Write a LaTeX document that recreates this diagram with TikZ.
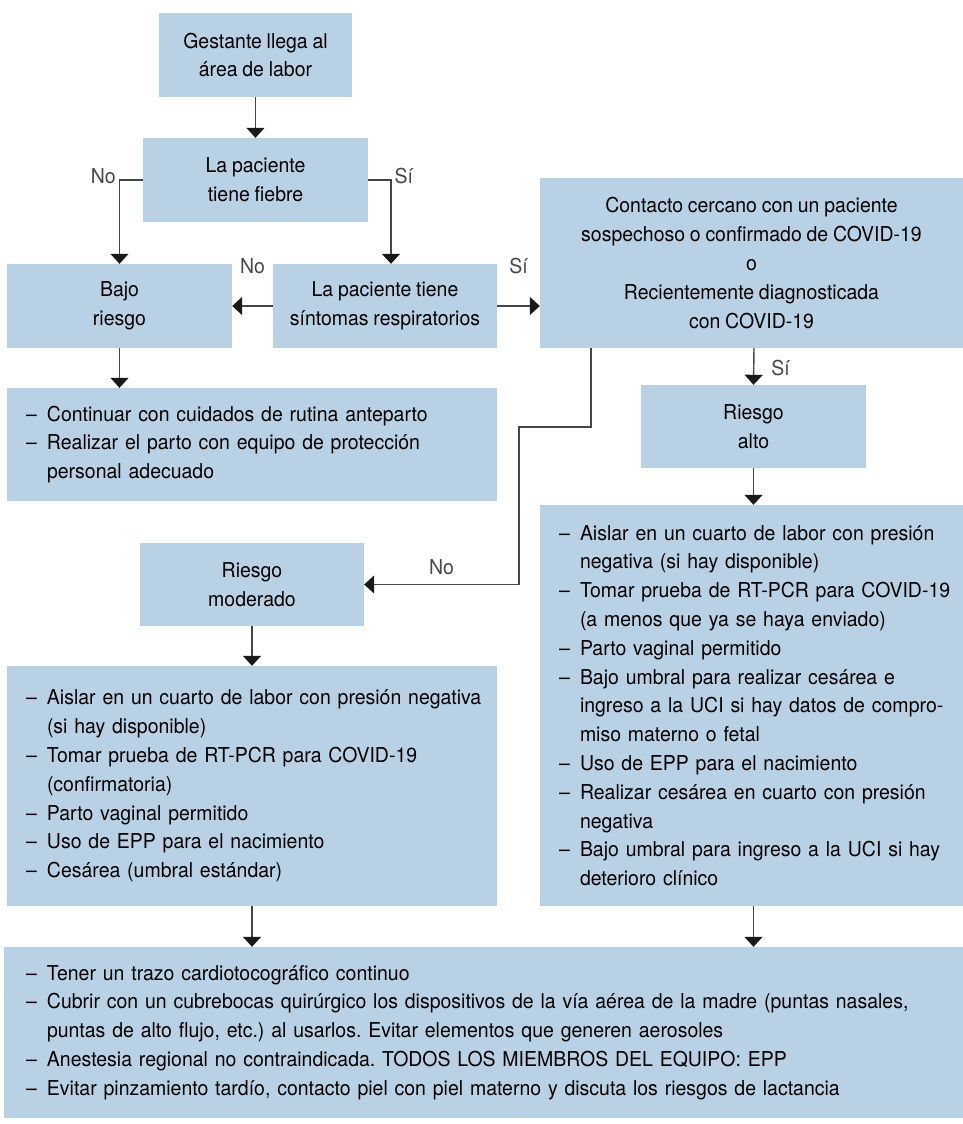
\documentclass[tikz,border=0pt]{standalone}
\usepackage{fontspec}
\setmainfont{TeX Gyre Heros}[FakeStretch=0.95,WordSpace=0.88]
\usetikzlibrary{arrows.meta}
\frenchspacing
\definecolor{cajaazul}{RGB}{185,209,228}
\definecolor{flecha}{RGB}{70,70,70}
\newcommand\guion[1]{\mbox{\makebox[21pt][l]{–}#1}}
\newcommand\sangria[1]{\mbox{\hspace*{21pt}#1}}
\tikzset{
  caja/.style={fill=cajaazul, align=center, inner sep=0pt},
  lista/.style={fill=cajaazul, align=left, inner xsep=19pt, inner ysep=0pt},
  etiq/.style={inner sep=3pt},
  conn/.style={flecha, line width=1.4pt, -{Triangle[width=18pt,length=10pt,color=black!90]}},
}

\begin{document}
\begin{tikzpicture}[x=1pt,y=-1pt,font=\fontsize{20.5}{28.8}\selectfont]
  \useasboundingbox (0,0) rectangle (963,1124);

  % cajas de decision
  \node[caja, minimum width=193pt, minimum height=84pt] (gest) at (255.5,55) {Gestante llega al\\área de labor};
  \node[caja, minimum width=225pt, minimum height=84pt] (fieb) at (255.5,180) {La paciente\\tiene fiebre};
  \node[caja, minimum width=225pt, minimum height=84pt] (bajo) at (119.5,306) {Bajo\\riesgo};
  \node[caja, minimum width=224pt, minimum height=84pt] (sint) at (385,306) {La paciente tiene\\síntomas respiratorios};
  \node[caja, minimum width=423pt, minimum height=170pt] (cont) at (751.5,263) {Contacto cercano con un paciente\\sospechoso o confirmado de COVID-19\\o\\Recientemente diagnosticada\\con COVID-19};
  \node[caja, minimum width=225pt, minimum height=83pt] (alto) at (753.5,426.5) {Riesgo\\alto};
  \node[caja, minimum width=224pt, minimum height=83pt] (mod) at (252,584.5) {Riesgo\\moderado};

  % cajas de indicaciones
  \node[lista, text width=452pt, minimum height=113pt] (bajol) at (252,444.5) {%
    \guion{Continuar con cuidados de rutina anteparto}\\
    \guion{Realizar el parto con equipo de protección}\\
    \sangria{personal adecuado}};
  \node[lista, text width=452pt, minimum height=240pt] (modl) at (252,786) {%
    \guion{Aislar en un cuarto de labor con presión negativa}\\
    \sangria{(si hay disponible)}\\
    \guion{Tomar prueba de RT-PCR para COVID-19}\\
    \sangria{(confirmatoria)}\\
    \guion{Parto vaginal permitido}\\
    \guion{Uso de EPP para el nacimiento}\\
    \guion{Cesárea (umbral estándar)}};
  \node[lista, text width=385pt, minimum height=401pt] (altol) at (751.5,705.5) {%
    \guion{Aislar en un cuarto de labor con presión}\\
    \sangria{negativa (si hay disponible)}\\
    \guion{Tomar prueba de RT-PCR para COVID-19}\\
    \sangria{(a menos que ya se haya enviado)}\\
    \guion{Parto vaginal permitido}\\
    \guion{Bajo umbral para realizar cesárea e}\\
    \sangria{ingreso a la UCI si hay datos de compro-}\\
    \sangria{miso materno o fetal}\\
    \guion{Uso de EPP para el nacimiento}\\
    \guion{Realizar cesárea en cuarto con presión}\\
    \sangria{negativa}\\
    \guion{Bajo umbral para ingreso a la UCI si hay}\\
    \sangria{deterioro clínico}};
  \node[lista, inner xsep=22pt, text width=915pt, minimum height=171pt] (fin) at (483.5,1032.5) {%
    \guion{Tener un trazo cardiotocográfico continuo}\\
    \guion{Cubrir con un cubrebocas quirúrgico los dispositivos de la vía aérea de la madre (puntas nasales,}\\
    \sangria{puntas de alto flujo, etc.) al usarlos. Evitar elementos que generen aerosoles}\\
    \guion{Anestesia regional no contraindicada. TODOS LOS MIEMBROS DEL EQUIPO: EPP}\\
    \guion{Evitar pinzamiento tardío, contacto piel con piel materno y discuta los riesgos de lactancia}};

  \coordinate (k1) at (519,427);

  % conectores
  \draw[conn] (gest) -- (fieb);
  \draw[conn] (fieb.west) -| node[etiq, pos=0.5, left, yshift=4pt] {No} (bajo.north);
  \draw[conn] (fieb.east) -| node[etiq, pos=0.5, right, yshift=4pt] {Sí} ([xshift=6pt]sint.north);
  \draw[conn] (sint.west) -- node[etiq, midway, yshift=40pt] {No} (bajo.east);
  \draw[conn] (sint.east) -- node[etiq, midway, yshift=40pt] {Sí} (sint.east -| cont.west);
  \draw[conn] ([xshift=2.5pt]cont.south) -- node[etiq, midway, right, xshift=14pt, yshift=-2pt] {Sí} (alto.north);
  \draw[conn] ([xshift=51pt]cont.south west) |- (k1) |- node[etiq, pos=0.75, above, yshift=6pt] {No} (mod.east);
  \draw[conn] (bajo.south) -- (bajo.south |- bajol.north);
  \draw[conn] (alto.south) -- (alto.south |- altol.north);
  \draw[conn] (mod.south) -- (modl.north);
  \draw[conn] (modl.south) -- (modl.south |- fin.north);
  \draw[conn] (alto.south |- altol.south) -- (alto.south |- fin.north);
\end{tikzpicture}
\end{document}
